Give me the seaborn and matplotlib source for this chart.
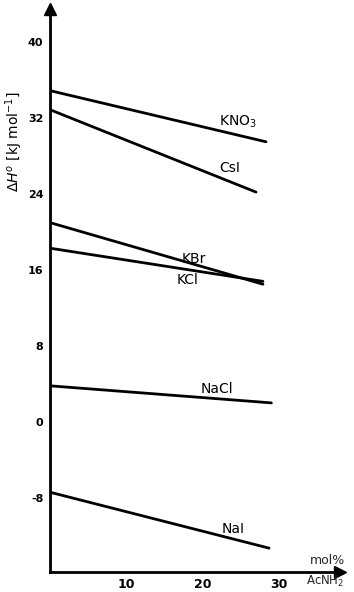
import pandas as pd
import seaborn as sns
import matplotlib.pyplot as plt

# Valores (entalpía vs. mol% AcNH2)
sales = ['KNO$_3$', 'CsI', 'KBr', 'KCl', 'NaCl', 'NaI']
x_inicio = [0, 0, 0, 0, 0, 0]
x_fin = [28.3, 27.0, 27.9, 27.9, 29.0, 28.7]
y_inicio = [34.9, 32.9, 21.0, 18.3, 3.8, -7.4]
y_fin = [29.5, 24.2, 14.5, 14.8, 2.0, -13.3]

# posiciones de las etiquetas
etiqueta_x = [24.6, 23.6, 18.8, 18.1, 21.9, 24.0]
etiqueta_y = [31.6, 26.7, 17.2, 14.9, 3.5, -11.3]

y_ticks = [40, 32, 24, 16, 8, 0, -8]
x_ticks = [10, 20, 30]

filas = []
for s, x0, x1, y0, y1 in zip(sales, x_inicio, x_fin, y_inicio, y_fin):
    filas.append({'sal': s, 'x': x0, 'y': y0})
    filas.append({'sal': s, 'x': x1, 'y': y1})
df = pd.DataFrame(filas)

sns.set_style('white')
plt.rcParams['font.family'] = ['DejaVu Sans']

fig = plt.figure(figsize=(3.54, 5.92), dpi=100)
ax = fig.add_axes([0.14, 0.034, 0.821, 0.951])

sns.lineplot(data=df, x='x', y='y', units='sal', estimator=None,
             color='black', linewidth=2, ax=ax)

for s, tx, ty in zip(sales, etiqueta_x, etiqueta_y):
    ax.text(tx, ty, s, fontsize=10, ha='center', va='center', color='black')

ax.set_xlim(0, 38)
ax.set_ylim(-15.8, 43.5)
ax.set_xticks(x_ticks)
ax.set_yticks(y_ticks)
ax.set_xticklabels([str(v) for v in x_ticks], fontsize=9, fontweight='bold')
ax.set_yticklabels([str(v) for v in y_ticks], fontsize=8, fontweight='bold')
ax.tick_params(axis='both', direction='inout', length=7, width=1.5, pad=1,
               colors='black')

for lado in ['top', 'right']:
    ax.spines[lado].set_visible(False)
for lado in ['left', 'bottom']:
    ax.spines[lado].set_linewidth(2)
    ax.spines[lado].set_color('black')

# puntas de flecha de los ejes
ax.plot(1, 0, '>', color='black', markersize=8, transform=ax.transAxes, clip_on=False)
ax.plot(0, 1, '^', color='black', markersize=8, transform=ax.transAxes, clip_on=False)

ax.set_xlabel('')
ax.set_ylabel(r'$\Delta H^o$ [kJ mol$^{-1}$]', fontsize=10, color='black')
ax.yaxis.set_label_coords(-0.085, 0.764)

ax.text(36.3, -14.6, 'mol%', fontsize=9, ha='center', va='center')
ax.text(36.0, -16.8, 'AcNH$_2$', fontsize=8.5, ha='center', va='center')

fig.savefig('out.png', dpi=100)
